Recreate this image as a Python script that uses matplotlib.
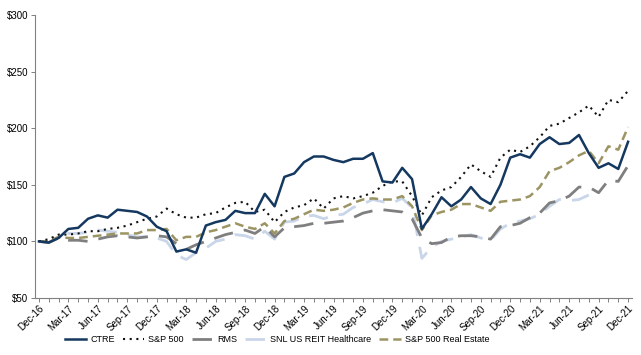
import matplotlib
matplotlib.use("Agg")
import matplotlib.pyplot as plt
from matplotlib.ticker import FuncFormatter, MultipleLocator
import numpy as np

months = ["Dec-16","Jan-17","Feb-17","Mar-17","Apr-17","May-17","Jun-17","Jul-17","Aug-17","Sep-17","Oct-17","Nov-17",
          "Dec-17","Jan-18","Feb-18","Mar-18","Apr-18","May-18","Jun-18","Jul-18","Aug-18","Sep-18","Oct-18","Nov-18",
          "Dec-18","Jan-19","Feb-19","Mar-19","Apr-19","May-19","Jun-19","Jul-19","Aug-19","Sep-19","Oct-19","Nov-19",
          "Dec-19","Jan-20","Feb-20","Mar-20","Apr-20","May-20","Jun-20","Jul-20","Aug-20","Sep-20","Oct-20","Nov-20",
          "Dec-20","Jan-21","Feb-21","Mar-21","Apr-21","May-21","Jun-21","Jul-21","Aug-21","Sep-21","Oct-21","Nov-21",
          "Dec-21"]

ctre = [100, 99, 103, 111, 112, 120, 123, 121, 128, 127, 126, 122,
        113, 109, 91, 93, 90, 114, 117, 119, 127, 125, 125, 142,
        131, 157, 160, 170, 175, 175, 172, 170, 173, 173, 178, 153,
        152, 165, 155, 111, 124, 139, 131, 137, 148, 138, 133, 150,
        174, 177, 174, 186, 192, 186, 187, 194, 178, 165, 169, 164,
        188]

sp500 = [100, 102, 106, 106, 107, 109, 109, 111, 112, 114, 117, 120,
         122, 129, 124, 121, 121, 124, 125, 130, 134, 135, 126, 128,
         117, 126, 130, 132, 138, 129, 138, 140, 138, 140, 143, 149,
         153, 153, 140, 123, 139, 145, 148, 157, 168, 162, 157, 174,
         181, 179, 184, 192, 202, 204, 209, 214, 220, 210, 225, 223,
         233]

rms = [100, 99, 103, 101, 101, 100, 102, 104, 105, 104, 103, 104,
       105, 104, 98, 93, 97, 100, 103, 106, 108, 110, 107, 113,
       104, 112, 113, 114, 116, 116, 117, 118, 121, 125, 127, 128,
       127, 126, 120, 103, 98, 99, 104, 105, 105, 104, 102, 113,
       114, 116, 121, 125, 134, 136, 140, 148, 148, 143, 154, 153,
       167]

snl = [100, 99, 104, 107, 107, 108, 110, 109, 108, 106, 104, 104,
       103, 100, 88, 84, 90, 94, 100, 102, 106, 105, 102, 109,
       102, 117, 118, 122, 123, 120, 123, 124, 130, 133, 137, 135,
       134, 138, 130, 85, 95, 100, 102, 104, 106, 103, 101, 111,
       116, 118, 120, 124, 131, 137, 136, 137, 141, np.nan, np.nan, np.nan,
       np.nan]

spre = [100, 100, 104, 103, 103, 104, 105, 106, 107, 107, 107, 110,
        110, 111, 101, 104, 104, 108, 110, 113, 116, 113, 111, 116,
        107, 118, 120, 124, 128, 127, 128, 130, 134, 137, 138, 137,
        137, 140, 131, 110, 123, 126, 128, 133, 133, 130, 127, 135,
        136, 137, 140, 148, 162, 165, 170, 176, 180, 169, 184, 181,
        201]

font = ['Liberation Sans Narrow', 'Liberation Sans', 'DejaVu Sans']
plt.rcParams['font.family'] = font

fig = plt.figure(figsize=(6.41, 3.55), dpi=100)
ax = fig.add_axes([35/641, 1-298/355, (632-35)/641, (298-15)/355])

x = np.arange(len(months))
ax.plot(x, snl, color='#C9D6EA', lw=2.0, dashes=(7, 4), label='SNL US REIT Healthcare', zorder=2)
ax.plot(x, rms, color='#7F7F7F', lw=2.0, dashes=(7, 4), label='RMS', zorder=3)
ax.plot(x, spre, color='#9C9462', lw=1.8, dashes=(3.5, 2), label='S&P 500 Real Estate', zorder=4)
ax.plot(x, sp500, color='#111111', lw=1.5, dashes=(1, 2.2), label='S&P 500', zorder=5)
ax.plot(x, ctre, color='#14385F', lw=1.8, label='CTRE', zorder=6)

ax.set_xlim(-0.4, 60.4)
ax.set_ylim(50, 300)
ax.yaxis.set_major_locator(MultipleLocator(50))
ax.yaxis.set_major_formatter(FuncFormatter(lambda v, p: f"${int(v)}"))
ax.set_xticks(x[::3])
ax.set_xticklabels(months[::3], rotation=45, ha='right', rotation_mode='anchor')
ax.set_xticks(x, minor=True)

for s in ['top', 'right']:
    ax.spines[s].set_visible(False)
for s in ['left', 'bottom']:
    ax.spines[s].set_color('#808080')
    ax.spines[s].set_linewidth(0.8)
ax.tick_params(axis='both', which='both', color='#808080', labelsize=7, direction='out', length=3, width=0.7, pad=2)
ax.tick_params(axis='x', which='major', pad=1)

handles, labels = ax.get_legend_handles_labels()
order = ['CTRE', 'S&P 500', 'RMS', 'SNL US REIT Healthcare', 'S&P 500 Real Estate']
hmap = dict(zip(labels, handles))
fig.legend([hmap[k] for k in order], order, loc='center', bbox_to_anchor=(277/641, 1-340/355),
           ncol=5, frameon=False, fontsize=6.5, handlelength=2.4, handletextpad=0.4, columnspacing=0.9,
           borderpad=0.2)

fig.savefig('out.png', dpi=100)
